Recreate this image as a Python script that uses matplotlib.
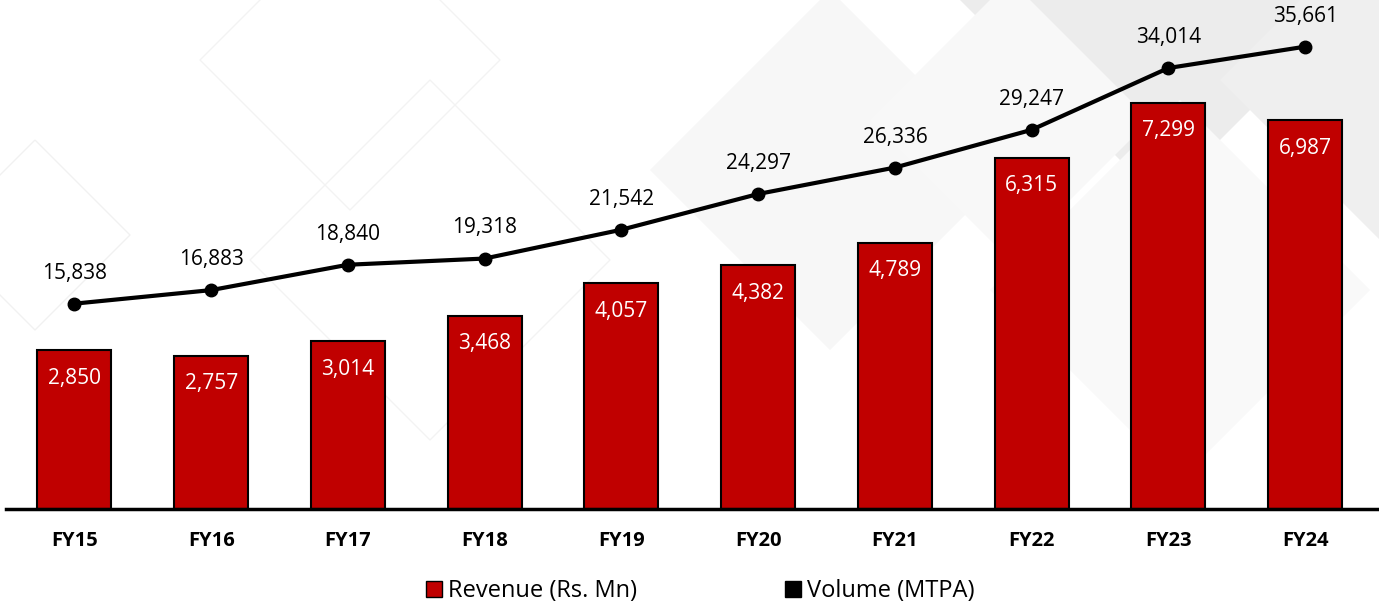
import matplotlib
matplotlib.use("Agg")
import matplotlib.pyplot as plt
from matplotlib.patches import Polygon
from matplotlib.lines import Line2D

years = ["FY15", "FY16", "FY17", "FY18", "FY19", "FY20", "FY21", "FY22", "FY23", "FY24"]
revenue = [2850, 2757, 3014, 3468, 4057, 4382, 4789, 6315, 7299, 6987]
volume = [15838, 16883, 18840, 19318, 21542, 24297, 26336, 29247, 34014, 35661]

plt.rcParams['font.family'] = ['Open Sans', 'DejaVu Sans']

W, H = 1379, 606
fig = plt.figure(figsize=(W / 100, H / 100), dpi=100)

# faint background diamonds (pixel coords, y from top), drawn on a back axes
bg = fig.add_axes([0, 0, 1, 1], zorder=-5)
bg.set_xlim(0, W)
bg.set_ylim(H, 0)
bg.axis('off')


def diamond(cx, cy, r, face, edge='none'):
    pts = [(cx, cy - r), (cx + r, cy), (cx, cy + r), (cx - r, cy)]
    bg.add_patch(Polygon(pts, closed=True, facecolor=face, edgecolor=edge, lw=1))


diamond(1160, -40, 240, '#ececec')
diamond(1380, 80, 160, '#efefef')
diamond(830, 170, 180, '#f7f7f7')
diamond(1010, 120, 140, '#f8f8f8')
diamond(1180, 290, 190, '#f9f9f9')
diamond(35, 235, 95, 'none', '#f1f1f1')
diamond(350, 60, 150, 'none', '#f3f3f3')
diamond(430, 260, 180, 'none', '#f3f3f3')

ax = fig.add_axes([6 / W, 97 / H, 1373 / W, 509 / H])
ax.patch.set_visible(False)
x = list(range(len(years)))

ax.bar(x, revenue, width=0.54, color='#C00000', edgecolor='black', linewidth=1.5, zorder=2)
ax.set_xlim(-0.5, 9.54)
ax.set_ylim(0, 9150)
for xi, v in zip(x, revenue):
    ax.annotate(f"{v:,}", (xi, v), xytext=(0, -20), textcoords='offset points',
                ha='center', va='center', color='white', fontsize=15, zorder=5)

for s in ['top', 'left', 'right']:
    ax.spines[s].set_visible(False)
ax.spines['bottom'].set_linewidth(2.5)
ax.set_yticks([])
ax.set_xticks(x)
ax.set_xticklabels(years, fontsize=14.5, fontweight='bold')
ax.tick_params(axis='x', length=0, pad=16)

ax2 = ax.twinx()
ax2.plot(x, volume, color='black', lw=3, marker='o', markersize=9, zorder=3)
ax2.set_ylim(0, 39260)
ax2.set_yticks([])
for s in ['top', 'left', 'right', 'bottom']:
    ax2.spines[s].set_visible(False)
for xi, v in zip(x, volume):
    ax2.annotate(f"{v:,}", (xi, v), xytext=(0, 22), textcoords='offset points',
                 ha='center', va='center', color='black', fontsize=15)

handles = [
    Line2D([], [], marker='s', linestyle='none', markersize=11,
           markerfacecolor='#C00000', markeredgecolor='black'),
    Line2D([], [], marker='s', linestyle='none', markersize=11,
           markerfacecolor='black', markeredgecolor='black'),
]
fig.legend(handles, ["Revenue (Rs. Mn)", "Volume (MTPA)"], loc='center',
           bbox_to_anchor=(701 / W, 1 - 591 / H), ncol=2, frameon=False,
           fontsize=17, handlelength=0.6, handletextpad=0.3, columnspacing=6.3,
           borderpad=0)

fig.savefig("out.png", dpi=100)
